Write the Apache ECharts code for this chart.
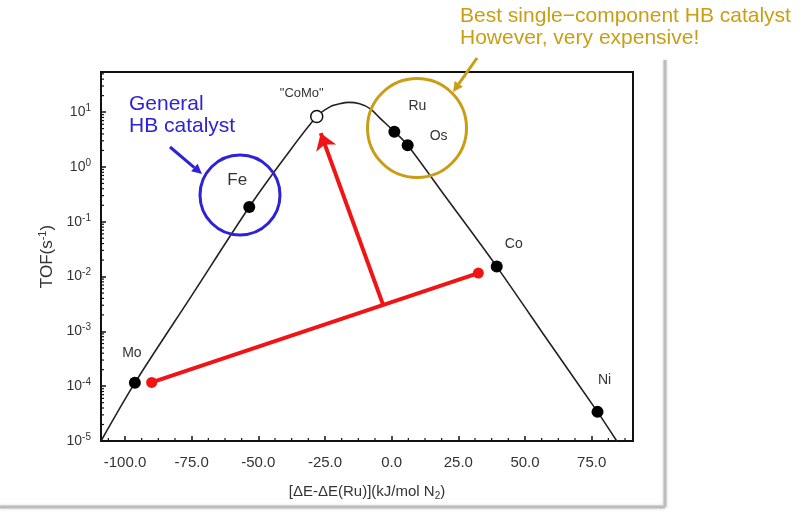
<!DOCTYPE html>
<html>
<head>
<meta charset="utf-8">
<script src="https://cdn.jsdelivr.net/npm/echarts@6/dist/echarts.min.js"></script>
<style>
html,body{margin:0;padding:0;background:#fff}
#chart{width:804px;height:519px}
</style>
</head>
<body>
<div id="chart"></div>
<script>
// catalysts on the volcano curve
var catalystNames = ['Mo', 'Fe', 'Ru', 'Os', 'Co', 'Ni'];
var catalystDE = [-96.3, -53.4, 1.0, 6.0, 39.4, 77.2];
var catalystTOF = [1.15e-4, 0.186, 4.4, 2.5, 0.0152, 3.4e-5];
var comoName = '"CoMo"';
var comoDE = -28.1;
var comoTOF = 8.3;

// volcano curve
var curveDE = [-109, -96.3, -75, -53.4, -40, -28.1, -23, -19.5, -16, -12, -8, -4.4, 1.0, 6.0, 20, 39.4, 60, 77.2, 84.4];
var curveTOF = [1e-5, 1.15e-4, 4.5e-3, 0.186, 1.5, 8.3, 12.6, 14.2, 15.1, 14.2, 11.5, 7.8, 4.4, 2.5, 0.295, 0.0152, 5.4e-4, 3.4e-5, 1e-5];

// red line (Mo -> Co mix) and red arrow
var redLineDE = [-90, 32.5];
var redLineTOF = [1.17e-4, 0.0116];
var redArrowDE = [-3.2, -26.6];
var redArrowTOF = [3.05e-3, 4.14];

var xTickLabels = [-100, -75, -50, -25, 0, 25, 50, 75];
var yDecades = [-5, -4, -3, -2, -1, 0, 1];

var labelOffsets = {
    'Mo': [-3, -30], 'Fe': [-12, -27], 'Ru': [23, -26], 'Os': [31, -9],
    'Co': [17, -22], 'Ni': [7, -32], '"CoMo"': [-15, -23]
};

var X_MIN = -109, X_MAX = 90.5, Y_MIN = 1e-5, Y_MAX = 54;
var FONT = '"Liberation Sans", Arial, sans-serif';

var myChart = echarts.init(document.getElementById('chart'));

function pairs(xs, ys) {
    var out = [];
    for (var i = 0; i < xs.length; i++) out.push([xs[i], ys[i]]);
    return out;
}

var catalystData = [];
for (var i = 0; i < catalystNames.length; i++) {
    var n = catalystNames[i];
    catalystData.push({
        name: n, value: [catalystDE[i], catalystTOF[i]],
        label: {offset: labelOffsets[n], fontSize: n == 'Fe' ? 17 : 14}
    });
}
catalystData.push({
    name: comoName, value: [comoDE, comoTOF],
    itemStyle: {color: '#fff', borderColor: '#111', borderWidth: 1.5},
    label: {offset: labelOffsets[comoName], fontSize: 13}
});

// minor ticks (every 6.25 on x, 2..9 per decade on y)
var xMinor = [];
for (var v = -106.25; v <= X_MAX; v += 6.25) {
    if (xTickLabels.indexOf(v) < 0) xMinor.push([v, Y_MIN]);
}
var yMinor = [];
for (var d = 0; d < yDecades.length; d++) {
    for (var k = 2; k <= 9; k++) {
        var yv = k * Math.pow(10, yDecades[d]);
        if (yv < Y_MAX) yMinor.push([X_MIN, yv]);
    }
}

function arrow(x1, y1, x2, y2, color, w, hl, hw) {
    var dx = x2 - x1, dy = y2 - y1, len = Math.sqrt(dx * dx + dy * dy);
    var ux = dx / len, uy = dy / len;
    var bx = x2 - ux * hl, by = y2 - uy * hl;
    return {
        type: 'group', z: 10, children: [
            {type: 'line', shape: {x1: x1, y1: y1, x2: bx, y2: by}, style: {stroke: color, lineWidth: w}},
            {type: 'polygon', shape: {points: [[x2, y2], [bx - uy * hw, by + ux * hw], [bx + uy * hw, by - ux * hw]]}, style: {fill: color}}
        ]
    };
}

var BLUE = '#2e22d6', GOLD = '#c99e14', RED = '#f01414';

option = {
    backgroundColor: '#fff',
    animation: false,
    textStyle: {fontFamily: FONT},
    grid: {
        left: 101, top: 72, right: 171, bottom: 78,
        show: true, borderColor: '#111', borderWidth: 2
    },
    xAxis: {
        type: 'value', min: X_MIN, max: X_MAX,
        minInterval: 25, maxInterval: 25,
        name: '[ΔE-ΔE(Ru)](kJ/mol N{sub|2})',
        nameLocation: 'middle', nameGap: 42,
        nameTextStyle: {
            color: '#333', fontSize: 15, fontFamily: FONT,
            rich: {sub: {fontSize: 10, verticalAlign: 'bottom', padding: [8, 0, 0, 0], color: '#333'}}
        },
        axisLine: {onZero: false, lineStyle: {color: '#111', width: 2}},
        axisTick: {inside: true, length: 5, lineStyle: {color: '#111', width: 1.5}},
        axisLabel: {
            color: '#333', fontSize: 15, margin: 14,
            showMinLabel: false, showMaxLabel: false,
            formatter: function (v) {
                return xTickLabels.indexOf(v) >= 0 ? v.toFixed(1) : '';
            }
        },
        splitLine: {show: false}
    },
    yAxis: {
        type: 'log', logBase: 10, min: Y_MIN, max: Y_MAX,
        name: 'TOF(s{sup|-1})',
        nameLocation: 'middle', nameGap: 36, nameRotate: 90,
        nameTextStyle: {
            color: '#333', fontSize: 17, fontFamily: FONT,
            rich: {sup: {fontSize: 11, verticalAlign: 'top', padding: [0, 0, 8, 0], color: '#333'}}
        },
        axisLine: {onZero: false, lineStyle: {color: '#111', width: 2}},
        axisTick: {inside: true, length: 5, lineStyle: {color: '#111', width: 1.5}},
        axisLabel: {
            color: '#333', fontSize: 14, margin: 10,
            showMaxLabel: false,
            formatter: function (v) {
                var e = Math.round(Math.log10(v));
                if (Math.abs(Math.log10(v) - e) > 1e-6 || yDecades.indexOf(e) < 0) return '';
                return '10{sup|' + e + '}';
            },
            rich: {sup: {fontSize: 10, verticalAlign: 'top', padding: [0, 0, 8, 0], color: '#333'}}
        },
        splitLine: {show: false}
    },
    series: [
        {
            name: 'curve', type: 'line', data: pairs(curveDE, curveTOF),
            smooth: 0.3, showSymbol: false, silent: true,
            lineStyle: {color: '#222', width: 1.6}, z: 2
        },
        {
            name: 'mix', type: 'line', data: pairs(redLineDE, redLineTOF),
            symbol: 'circle', symbolSize: 11, showSymbol: true,
            itemStyle: {color: RED, opacity: 1},
            lineStyle: {color: RED, width: 4}, z: 3
        },
        {
            name: 'arrow', type: 'lines', coordinateSystem: 'cartesian2d',
            data: [{coords: pairs(redArrowDE, redArrowTOF)}],
            symbol: ['none', 'arrow'], symbolSize: [12, 16],
            lineStyle: {color: RED, width: 4, opacity: 1}, z: 3
        },
        {
            name: 'catalysts', type: 'scatter', data: catalystData,
            symbol: 'circle', symbolSize: 12,
            itemStyle: {color: '#000', opacity: 1},
            label: {
                show: true, position: 'inside', color: '#333', fontFamily: FONT,
                formatter: '{b}'
            },
            z: 4
        },
        {
            name: 'xminor', type: 'custom', data: xMinor, silent: true, clip: false,
            renderItem: function (params, api) {
                var p = api.coord([api.value(0), api.value(1)]);
                return {type: 'line', shape: {x1: p[0], y1: p[1], x2: p[0], y2: p[1] - 3}, style: {stroke: '#111', lineWidth: 1.2}};
            }
        },
        {
            name: 'yminor', type: 'custom', data: yMinor, silent: true, clip: false,
            renderItem: function (params, api) {
                var p = api.coord([api.value(0), api.value(1)]);
                return {type: 'line', shape: {x1: p[0], y1: p[1], x2: p[0] + 3, y2: p[1]}, style: {stroke: '#111', lineWidth: 1.2}};
            }
        }
    ],
    graphic: [
        // photo frame shadow
        {type: 'line', shape: {x1: 665, y1: 60, x2: 665, y2: 507}, style: {stroke: '#bdbdbd', lineWidth: 3, shadowBlur: 3, shadowColor: '#ccc'}},
        {type: 'line', shape: {x1: 0, y1: 507, x2: 665, y2: 507}, style: {stroke: '#bdbdbd', lineWidth: 3, shadowBlur: 3, shadowColor: '#ccc'}},
        // blue annotation
        {type: 'circle', z: 10, shape: {cx: 240, cy: 195, r: 40}, style: {fill: null, stroke: BLUE, lineWidth: 3}},
        {type: 'text', z: 10, x: 129, y: 93, style: {text: 'General\nHB catalyst', fill: BLUE, font: '21px ' + FONT, lineHeight: 22}},
        arrow(170, 147, 202, 174, BLUE, 3, 10, 5),
        // gold annotation
        {type: 'circle', z: 10, shape: {cx: 417, cy: 128, r: 49.5}, style: {fill: null, stroke: GOLD, lineWidth: 3}},
        {type: 'text', z: 10, x: 460, y: 5, style: {text: 'Best single\u2212component HB catalyst\nHowever, very expensive!', fill: GOLD, font: '21px ' + FONT, lineHeight: 22}},
        arrow(477, 58, 453, 92, GOLD, 3, 10, 5)
    ]
};

myChart.setOption(option, true);
</script>
</body>
</html>
